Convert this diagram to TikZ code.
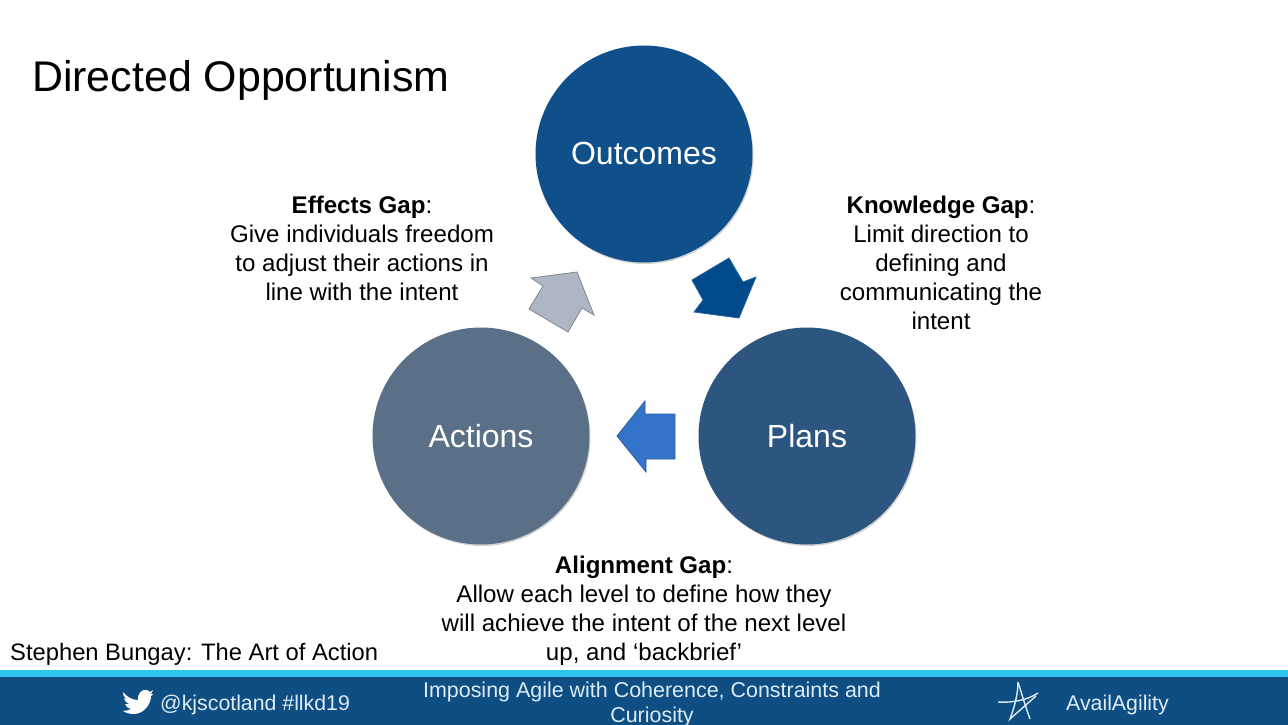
\documentclass[tikz,border=0pt]{standalone}
\usepackage{fontspec}
\setmainfont{Liberation Sans}
\usetikzlibrary{shadows}
\definecolor{outcomesblue}{HTML}{0F4F8A}
\definecolor{plansblue}{HTML}{2C5680}
\definecolor{actionsgrey}{HTML}{5A7087}
\definecolor{footerblue}{HTML}{0F4E82}
\definecolor{footerline}{HTML}{2CC6F0}
\definecolor{footertext}{HTML}{DCEBF5}
\definecolor{arrowgrey}{HTML}{AEB5C4}
\definecolor{arrowdark}{HTML}{004A8C}
\definecolor{arrowmid}{HTML}{3374C8}
\tikzset{
	stage/.style={circle, minimum size=217pt, inner sep=0pt, text=white, font=\fontsize{32}{36}\selectfont, drop shadow={shadow xshift=1pt, shadow yshift=-1.5pt, opacity=0.35}},
	gaptext/.style={align=center, font=\fontsize{24.1}{29}\selectfont, inner sep=0pt},
	foottext/.style={text=footertext, font=\fontsize{21.3}{25}\selectfont, inner sep=0pt},
	blockarrow/.style={line width=0.8pt, line join=miter}
}
\begin{document}
\begin{tikzpicture}[x=1pt,y=-1pt]
	\useasboundingbox (0,0) rectangle (1288,725);
	\fill[white] (0,0) rectangle (1288,725);

	\node[anchor=west, inner sep=0pt, font=\fontsize{42.9}{50}\selectfont] (title) at (32,80.5) {Directed Opportunism};

	\node[stage, fill=outcomesblue] (outcomes) at (644,154) {\raisebox{1pt}{Outcomes}};
	\node[stage, fill=plansblue] (plans) at (807,436) {\raisebox{1pt}{Plans}};
	\node[stage, fill=actionsgrey] (actions) at (481,436) {\raisebox{1pt}{Actions}};

	\draw[blockarrow, fill=arrowdark, draw=arrowdark!85!white] (729,258) -- (692,280) -- (703,300) -- (694,312) -- (739,318) -- (756,277) -- (743,282) -- cycle;
	\draw[blockarrow, fill=arrowmid, draw=arrowmid!80!black] (617,436) -- (645,401) -- (645,414) -- (675,414) -- (675,459) -- (646,459) -- (646,472) -- cycle;
	\draw[blockarrow, fill=arrowgrey, draw=arrowgrey!75!black] (577,272) -- (531,278) -- (543,286) -- (529,309) -- (568,332) -- (582,308) -- (594,315) -- cycle;

	\node[gaptext] (effects) at (362,248.5) {\textbf{Effects Gap}:\\Give individuals freedom\\to adjust their actions in\\line with the intent};
	\node[gaptext] (knowledge) at (941,263) {\textbf{Knowledge Gap}:\\Limit direction to\\defining and\\communicating the\\intent};
	\node[gaptext] (alignment) at (644,610.5) {\textbf{Alignment Gap}:\\Allow each level to define how they\\will achieve the intent of the next level\\up, and ‘backbrief’};
	\node[anchor=west, inner sep=0pt, font=\fontsize{23.75}{29}\selectfont] (source) at (10,654) {Stephen Bungay: The Art of Action};

	% footer
	\fill[footerblue] (0,677) rectangle (1288,725);
	\fill[footerline] (0,670) rectangle (1288,677);

	\fill[white] (123,692) .. controls (127,697) and (132,700) .. (138,700)
		.. controls (137,694) and (142,689) .. (146,690)
		.. controls (148,690) and (149,691) .. (150,692)
		-- (153,690) -- (151,694) -- (153,694) -- (151,696)
		.. controls (151,705) and (143,714) .. (134,714)
		.. controls (130,714) and (126,713) .. (123,711)
		.. controls (126,711) and (129,710) .. (131,709)
		.. controls (128,708) and (126,707) .. (125,704)
		-- (129,704) .. controls (126,703) and (124,700) .. (124,698)
		-- (128,699) .. controls (124,697) and (122,695) .. (123,692) -- cycle;
	\node[foottext, anchor=west] (handle) at (160,705) {@kjscotland \#llkd19};
	\node[foottext, align=center, anchor=north, font=\fontsize{21.45}{25}\selectfont] (talk) at (652,682) {Imposing Agile with Coherence, Constraints and\\Curiosity};

	\draw[footertext, line width=1.4pt] (998,702) .. controls (1012,703) and (1028,700) .. (1038,693);
	\draw[footertext, line width=1.4pt] (1018,682) .. controls (1018,695) and (1014,708) .. (1010,719) -- (1036,696);
	\draw[footertext, line width=1.4pt] (1018,682) .. controls (1022,695) and (1026,708) .. (1030,719);
	\node[foottext, anchor=west] (brand) at (1066,705) {AvailAgility};
\end{tikzpicture}
\end{document}
